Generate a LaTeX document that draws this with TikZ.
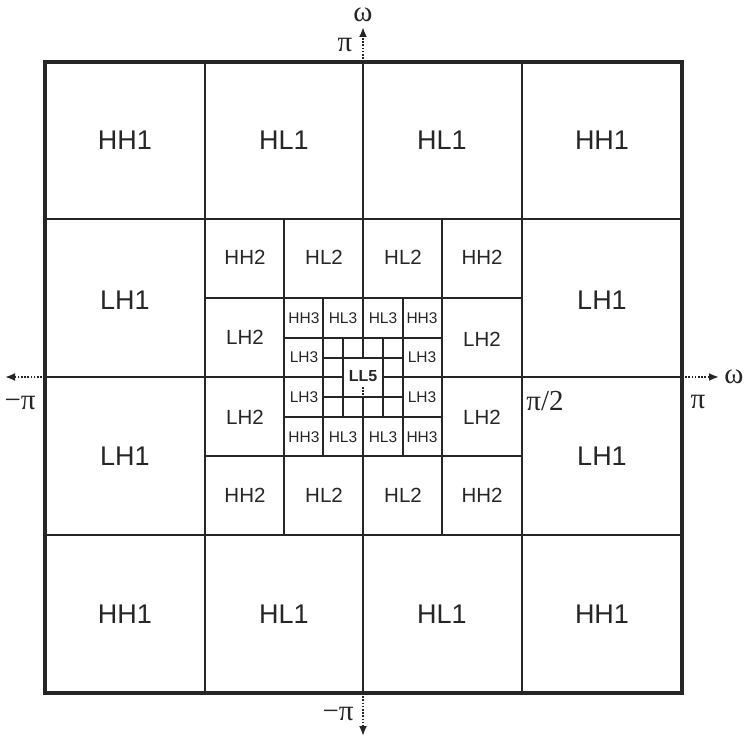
\documentclass[tikz,border=0pt]{standalone}
\usepackage{fontspec}
\setmainfont{Liberation Sans}
\newfontfamily\greekfont{Liberation Serif}
\usetikzlibrary{arrows.meta}
\begin{document}
\begin{tikzpicture}[x=1pt,y=-1pt,
  gridline/.style={line width=2.2pt, draw=black!85},
  frameline/.style={line width=3.2pt, draw=black!85},
  axisext/.style={line width=1.9pt, draw=black!85, dash pattern=on 1.6pt off 1.6pt, -{Latex[length=10pt,width=8pt]}},
  lvlone/.style={inner sep=0pt, font=\fontsize{27}{27}\selectfont, text=black!85},
  lvltwo/.style={inner sep=0pt, font=\fontsize{20.5}{20.5}\selectfont, text=black!85},
  lvlthree/.style={inner sep=0pt, font=\fontsize{15.5}{15.5}\selectfont, text=black!85},
  lvlfive/.style={inner sep=0pt, font=\bfseries\fontsize{16}{16}\selectfont, text=black!85},
  greeklbl/.style={inner sep=0pt, font=\greekfont\fontsize{29}{29}\selectfont, text=black!85}]
\useasboundingbox (0,0) rectangle (747,741);
% level 1 grid
\foreach \x in {205,363,522} \draw[gridline] (\x,62) -- (\x,693);
\foreach \y in {219,377,535} \draw[gridline] (45,\y) -- (682,\y);
% level 2
\foreach \x in {284,442} \draw[gridline] (\x,219) -- (\x,535);
\foreach \y in {298,456} \draw[gridline] (205,\y) -- (522,\y);
% level 3
\foreach \x in {323,403} \draw[gridline] (\x,298) -- (\x,456);
\foreach \y in {338,417} \draw[gridline] (284,\y) -- (442,\y);
% level 4
\foreach \x in {343,383} \draw[gridline] (\x,338) -- (\x,417);
\foreach \y in {358,397} \draw[gridline] (323,\y) -- (403,\y);
% centre box
\fill[white] (344.2,359.2) rectangle (381.8,395.8);
\node[lvlfive] (ll5) at (363,376) {LL5};
\coordinate (dA) at (363,387);
\coordinate (dB) at (363,395);
\draw[line width=1.6pt, draw=black!85, dash pattern=on 1.5pt off 1.5pt] (dA) -- (dB);
% frame
\draw[frameline] (45,62) rectangle (682,693);
% axis extensions
\coordinate (top0) at (363,62);   \coordinate (top1) at (363,27);
\coordinate (bot0) at (363,693);  \coordinate (bot1) at (363,736);
\coordinate (lef0) at (45,377);   \coordinate (lef1) at (5,377);
\coordinate (rig0) at (682,377);  \coordinate (rig1) at (719,377);
\draw[axisext] (top0) -- (top1);
\draw[axisext] (bot0) -- (bot1);
\draw[axisext] (lef0) -- (lef1);
\draw[axisext] (rig0) -- (rig1);
% greek labels
\node[greeklbl] (wtop) at (363,15) {ω};
\node[greeklbl] (ptop) at (345,45) {π};
\node[greeklbl] (pbot) at (338,714) {−π};
\node[greeklbl] (plef) at (20,403) {−π};
\node[greeklbl] (wrig) at (734,377) {ω};
\node[greeklbl] (prig) at (698,402) {π};
\node[greeklbl] (phalf) at (545,401) {π/2};
% level 1 labels
\foreach \t/\x/\y/\n in {HH1/125/140/a, HL1/284/140/b, HL1/442/140/c, HH1/602/140/d,
  LH1/125/300/e, LH1/602/300/f, LH1/125/456/g, LH1/602/456/h,
  HH1/125/614/i, HL1/284/614/j, HL1/442/614/k, HH1/602/614/l}
  \node[lvlone] (one\n) at (\x,\y) {\t};
% level 2 labels
\foreach \t/\x/\y/\n in {HH2/245/257/a, HL2/324/257/b, HL2/403/257/c, HH2/482/257/d,
  LH2/245/337/e, LH2/482/339/f, LH2/245/417/g, LH2/482/417/h,
  HH2/245/495/i, HL2/324/495/j, HL2/403/495/k, HH2/482/495/l}
  \node[lvltwo] (two\n) at (\x,\y) {\t};
% level 3 labels
\foreach \t/\x/\y/\n in {HH3/304/318/a, HL3/343/318/b, HL3/383/318/c, HH3/422/318/d,
  LH3/304/357/e, LH3/422/357/f, LH3/304/397/g, LH3/422/397/h,
  HH3/304/437/i, HL3/343/437/j, HL3/383/437/k, HH3/422/437/l}
  \node[lvlthree] (three\n) at (\x,\y) {\t};
\end{tikzpicture}
\end{document}
